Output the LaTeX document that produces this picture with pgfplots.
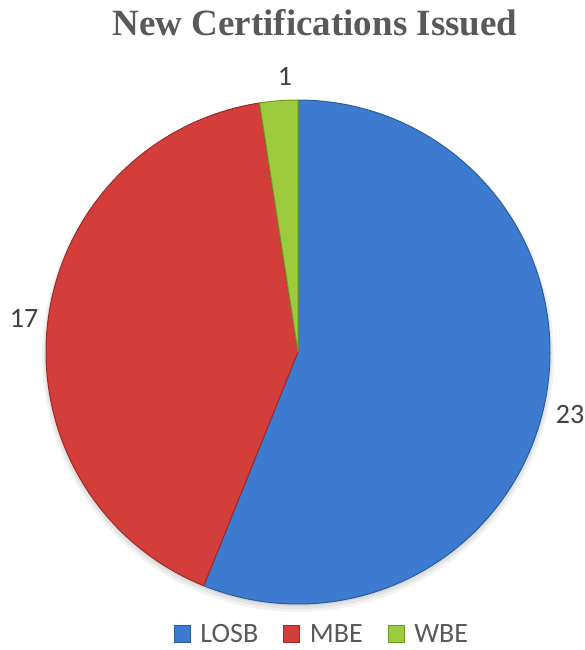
\documentclass[border=0pt]{standalone}
\usepackage{pgfplots}
\usepackage{pgfplotstable}
\pgfplotsset{compat=1.18}
\usepackage{fontspec}
\setmainfont{Carlito}
\newfontfamily\titlefont{Liberation Serif}
\definecolor{cBlue}{HTML}{3C7BD0}
\definecolor{cBlueD}{HTML}{2B5C9E}
\definecolor{cRed}{HTML}{D33D3A}
\definecolor{cRedD}{HTML}{9C2B29}
\definecolor{cGreen}{HTML}{9CCB3E}
\definecolor{cGreenD}{HTML}{6E9A22}
\definecolor{txtGray}{HTML}{595959}
\definecolor{lblGray}{HTML}{404040}

\pgfplotstableread{
name value
LOSB 23
MBE 17
WBE 1
}\pietable

\begin{document}
\pgfplotstablegetelem{0}{value}\of\pietable \let\vA\pgfplotsretval
\pgfplotstablegetelem{1}{value}\of\pietable \let\vB\pgfplotsretval
\pgfplotstablegetelem{2}{value}\of\pietable \let\vC\pgfplotsretval
\begin{tikzpicture}
\pgfmathsetmacro\tot{\vA+\vB+\vC}
\pgfmathsetmacro\aA{90-360*\vA/\tot}
\pgfmathsetmacro\aB{\aA-360*\vB/\tot}
\pgfmathsetmacro\aC{\aB-360*\vC/\tot}
\begin{axis}[
  scale only axis, width=585pt, height=650pt,
  xmin=0, xmax=585, ymin=0, ymax=650, y dir=reverse,
  hide axis, clip=false,
  legend columns=3,
  legend image code/.code={\draw[#1, line width=0.6pt] (0pt,-8.5pt) rectangle (16pt,8.5pt);},
  legend style={at={(axis cs:322,634)}, anchor=center, draw=none, fill=none, inner sep=0pt,
    font=\fontsize{28}{30}\selectfont, text=txtGray,
    /tikz/every odd column/.append style={column sep=8pt},
    /tikz/every even column/.append style={column sep=23pt}},
]
\path (axis cs:0,0) rectangle (axis cs:585,650);
% soft shadow
\addplot[forget plot, draw=none, fill=black, fill opacity=0.05, domain=0:360, samples=120]
  ({298+256*cos(x)},{356-256*sin(x)}) -- cycle;
\addplot[forget plot, draw=none, fill=black, fill opacity=0.06, domain=0:360, samples=120]
  ({298+254*cos(x)},{355-254*sin(x)}) -- cycle;
\addplot[forget plot, draw=none, fill=black, fill opacity=0.08, domain=0:360, samples=120]
  ({298+252*cos(x)},{354-252*sin(x)}) -- cycle;
% wedges
\addplot[fill=cBlue, draw=cBlueD, line width=1pt, domain=\aA:90, samples=140]
  ({298+252*cos(x)},{352-252*sin(x)}) -- (axis cs:298,352) -- cycle;
\addlegendentry{LOSB}
\addplot[fill=cRed, draw=cRedD, line width=1pt, domain=\aB:\aA, samples=110]
  ({298+252*cos(x)},{352-252*sin(x)}) -- (axis cs:298,352) -- cycle;
\addlegendentry{MBE}
\addplot[fill=cGreen, draw=cGreenD, line width=1pt, domain=\aC:\aB, samples=12]
  ({298+252*cos(x)},{352-252*sin(x)}) -- (axis cs:298,352) -- cycle;
\addlegendentry{WBE}
% title and labels
\node[anchor=base, font=\titlefont\bfseries\fontsize{37}{40}\selectfont, text=txtGray, inner sep=0pt]
  at (axis cs:315,36) {New Certifications Issued};
\node[anchor=base, font=\fontsize{28}{30}\selectfont, text=lblGray, inner sep=0pt] at (axis cs:285,86) {1};
\node[anchor=base, font=\fontsize{28}{30}\selectfont, text=lblGray, inner sep=0pt] at (axis cs:24,327) {17};
\node[anchor=base, font=\fontsize{28}{30}\selectfont, text=lblGray, inner sep=0pt] at (axis cs:570,423) {23};
\end{axis}
\end{tikzpicture}
\end{document}
